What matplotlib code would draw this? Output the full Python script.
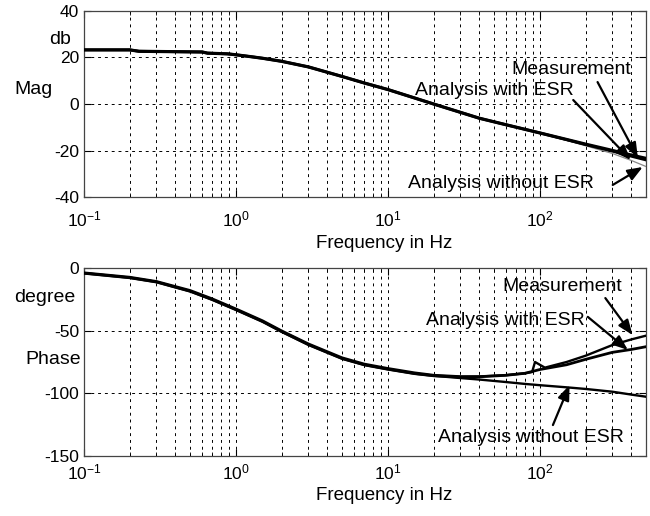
import matplotlib
matplotlib.use("Agg")
import matplotlib.pyplot as plt

plt.rcParams['font.family'] = ['Liberation Sans', 'DejaVu Sans']
plt.rcParams['mathtext.fontset'] = 'custom'
plt.rcParams['mathtext.rm'] = 'Liberation Sans'
plt.rcParams['mathtext.it'] = 'Liberation Sans'
plt.rcParams['axes.unicode_minus'] = False

# ---- magnitude (dB) ----
mag_freq = [0.1, 0.2, 0.23, 0.6, 0.65, 0.88, 1.0, 1.25, 1.5, 2.0, 3.0, 5.0, 7.0,
            10, 20, 40, 60, 100, 150, 200, 300, 400, 500]
mag_meas = [23.2, 23.2, 22.6, 22.3, 21.8, 21.5, 21.1, 20.3, 19.6, 18.3, 15.9, 11.8, 9.0,
            6.2, 0.0, -6.1, -8.9, -12.4, -15.2, -17.2, -19.9, -21.9, -23.3]
mag_esr = [23.2, 23.2, 22.6, 22.3, 21.8, 21.5, 21.1, 20.3, 19.6, 18.3, 15.9, 11.8, 9.0,
           6.2, 0.0, -6.1, -8.9, -12.4, -15.3, -17.4, -20.2, -22.4, -24.0]
mag_noesr = [23.2, 23.2, 22.6, 22.3, 21.8, 21.5, 21.1, 20.3, 19.6, 18.3, 15.9, 11.8, 9.0,
             6.2, 0.0, -6.1, -8.9, -12.5, -15.6, -17.9, -21.2, -24.2, -26.8]

# ---- phase (degree) ----
ph_freq_meas = [0.1, 0.2, 0.3, 0.5, 0.7, 1.0, 1.5, 2.0, 3.0, 5.0, 7.0, 10, 15, 20, 30,
                40, 60, 80, 89, 93, 108, 150, 200, 300, 400, 500]
ph_meas = [-3.7, -7.2, -10.6, -17.8, -24.5, -32.5, -42.0, -50.0, -60.4, -71.5, -76.5,
           -80.0, -83.5, -85.4, -86.5, -86.5, -85.5, -84.0, -83.0, -75.0, -79.5,
           -75.0, -70.0, -61.5, -57.0, -54.0]
ph_freq = [0.1, 0.2, 0.3, 0.5, 0.7, 1.0, 1.5, 2.0, 3.0, 5.0, 7.0, 10, 15, 20, 30,
           40, 60, 80, 100, 150, 200, 300, 400, 500]
ph_esr = [-4.2, -7.8, -11.2, -18.6, -25.3, -33.3, -42.8, -50.8, -61.2, -72.3, -77.3,
          -80.8, -84.3, -86.0, -87.0, -86.8, -85.6, -84.0, -81.0, -77.2, -72.9,
          -67.3, -65.0, -62.8]
ph_noesr = [-4.2, -7.8, -11.2, -18.6, -25.3, -33.3, -42.8, -50.8, -61.2, -72.3, -77.3,
            -80.8, -84.3, -86.0, -87.8, -89.0, -91.0, -92.5, -93.5, -95.2, -96.5,
            -98.7, -101.0, -102.7]

mag_ticks = [-40, -20, 0, 20, 40]
ph_ticks = [-150, -100, -50, 0]

W, H = 650, 516
fig = plt.figure(figsize=(W / 100, H / 100), dpi=100)
ax1 = fig.add_axes([84 / W, 1 - 197.3 / H, 562 / W, 186.6 / H])
ax2 = fig.add_axes([84 / W, 1 - 456 / H, 562 / W, 188 / H])


def style(ax, yticks, xpad):
    ax.set_xscale('log')
    ax.set_xlim(0.1, 500)
    ax.set_ylim(yticks[0], yticks[-1])
    ax.set_yticks(yticks)
    ax.grid(True, which='major', axis='both', linestyle=(0, (3, 4)), color='black', lw=0.7)
    ax.grid(True, which='minor', axis='x', linestyle=(0, (3, 4)), color='black', lw=0.7)
    ax.tick_params(which='both', direction='in', top=True, right=True, labelsize=12.5)
    ax.tick_params(axis='x', pad=xpad)
    ax.tick_params(which='major', length=5)
    ax.tick_params(which='minor', length=3)
    for s in ax.spines.values():
        s.set_linewidth(0.9)
        s.set_color('#444444')


style(ax1, mag_ticks, 9)
style(ax2, ph_ticks, 5)

ax1.plot(mag_freq, mag_noesr, color='#888888', lw=0.9, zorder=3)
ax1.plot(mag_freq, mag_esr, color='black', lw=2.0, zorder=4)
ax1.plot(mag_freq, mag_meas, color='black', lw=2.3, zorder=5)

ax2.plot(ph_freq, ph_noesr, color='black', lw=1.7, zorder=3)
ax2.plot(ph_freq, ph_esr, color='black', lw=2.0, zorder=4)
ax2.plot(ph_freq_meas, ph_meas, color='black', lw=1.7, zorder=5)

arrow = dict(arrowstyle='-|>,head_length=0.9,head_width=0.35', color='black', lw=1.6,
             shrinkA=0, shrinkB=0)
tkw = dict(fontsize=14, ha='center', va='center', zorder=6)

ax1.annotate('', xy=(442, -23.1), xytext=(240, 9.4), arrowprops=arrow)
ax1.text(162, 14.6, 'Measurement', **tkw)
ax1.annotate('', xy=(397, -24.0), xytext=(166, 1.7), arrowprops=arrow)
ax1.text(50, 6.0, 'Analysis with ESR', **tkw)
ax1.annotate('', xy=(476, -27.0), xytext=(302, -34.7), arrowprops=arrow)
ax1.text(55.4, -33.9, 'Analysis without ESR', **tkw)

ax2.annotate('', xy=(408, -53.5), xytext=(270, -24), arrowprops=arrow)
ax2.text(140, -14.4, 'Measurement', **tkw)
ax2.annotate('', xy=(380, -65.4), xytext=(207, -39), arrowprops=arrow)
ax2.text(59, -41.5, 'Analysis with ESR', **tkw)
ax2.annotate('', xy=(157, -93.4), xytext=(122, -125.3), arrowprops=arrow)
ax2.text(87.5, -135, 'Analysis without ESR', **tkw)

fig.text(60 / W, 1 - 40 / H, 'db', fontsize=14, ha='center', va='center')
fig.text(34 / W, 1 - 89 / H, 'Mag', fontsize=14, ha='center', va='center')
fig.text(45 / W, 1 - 297 / H, 'degree', fontsize=14, ha='center', va='center')
fig.text(53 / W, 1 - 360 / H, 'Phase', fontsize=14, ha='center', va='center')
fig.text(384 / W, 1 - 243 / H, 'Frequency in Hz', fontsize=13.5, ha='center', va='center')
fig.text(384 / W, 1 - 496 / H, 'Frequency in Hz', fontsize=13.5, ha='center', va='center')

fig.savefig('out.png', dpi=100)
